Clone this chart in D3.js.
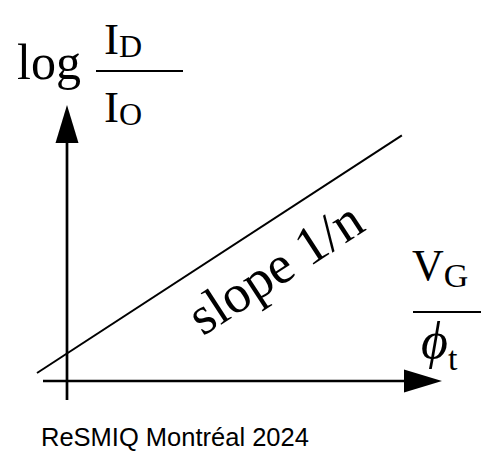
<!DOCTYPE html>
<html>
<head>
<meta charset="utf-8">
<script src="https://cdn.jsdelivr.net/npm/d3@7"></script>
<style>
  html, body { margin: 0; padding: 0; background: #fff; }
  svg { display: block; }
  .serif { font-family: "Liberation Serif", "Times New Roman", serif; fill: #000; }
  .sans { font-family: "Liberation Sans", Arial, sans-serif; fill: #000; }
</style>
</head>
<body>
<svg id="chart" width="481" height="451"></svg>
<script>
// Subthreshold conduction: log(ID/IO) grows linearly with VG/phi_t, slope 1/n
const axisX = [-0.64, 10];      // horizontal axis extent (VG/phi_t units)
const axisY = [-0.69, 10];      // vertical axis extent (log ID/IO units)
const lineX = [-0.8, 8.93];     // characteristic line endpoints
const lineY = [0.29, 8.9];
const slopeLabel = "slope 1/n";
const footer = "ReSMIQ Montréal 2024";

const svg = d3.select("#chart");
const x = d3.scaleLinear().domain([0, 10]).range([67, 442]);
const y = d3.scaleLinear().domain([0, 10]).range([381, 105]);

const arrowLen = 38, arrowHalf = 11.5;

// horizontal axis with arrow
svg.append("line")
  .attr("x1", x(axisX[0])).attr("x2", x(axisX[1]) - arrowLen + 2)
  .attr("y1", y(0)).attr("y2", y(0))
  .attr("stroke", "#000").attr("stroke-width", 2.7);
svg.append("path")
  .attr("d", d3.line()([
    [x(axisX[1]), y(0)],
    [x(axisX[1]) - arrowLen, y(0) - arrowHalf],
    [x(axisX[1]) - arrowLen, y(0) + arrowHalf]
  ]) + "Z")
  .attr("fill", "#000");

// vertical axis with arrow
svg.append("line")
  .attr("x1", x(0)).attr("x2", x(0))
  .attr("y1", y(axisY[0])).attr("y2", y(axisY[1]) + arrowLen - 2)
  .attr("stroke", "#000").attr("stroke-width", 2.7);
svg.append("path")
  .attr("d", d3.line()([
    [x(0), y(axisY[1])],
    [x(0) - arrowHalf, y(axisY[1]) + arrowLen],
    [x(0) + arrowHalf, y(axisY[1]) + arrowLen]
  ]) + "Z")
  .attr("fill", "#000");

// characteristic line
svg.append("path")
  .datum(d3.zip(lineX, lineY))
  .attr("d", d3.line().x(d => x(d[0])).y(d => y(d[1])))
  .attr("fill", "none").attr("stroke", "#000").attr("stroke-width", 2);

// slope label, rotated along the line
const ang = Math.atan2(y(lineY[1]) - y(lineY[0]), x(lineX[1]) - x(lineX[0])) * 180 / Math.PI;
svg.append("text").attr("class", "serif")
  .attr("transform", `translate(285,283) rotate(${ang})`)
  .attr("text-anchor", "middle")
  .attr("font-size", 54)
  .text(slopeLabel);

// y-axis label: log ID / IO
const yl = svg.append("g");
yl.append("text").attr("class", "serif").attr("x", 17).attr("y", 79).attr("font-size", 50).text("log");
const num = yl.append("text").attr("class", "serif").attr("x", 104).attr("y", 54).attr("font-size", 45);
num.append("tspan").text("I");
num.append("tspan").attr("font-size", 32).attr("dy", 3).text("D");
yl.append("line").attr("x1", 96).attr("x2", 183).attr("y1", 71).attr("y2", 71)
  .attr("stroke", "#000").attr("stroke-width", 2);
const den = yl.append("text").attr("class", "serif").attr("x", 104).attr("y", 122).attr("font-size", 45);
den.append("tspan").text("I");
den.append("tspan").attr("font-size", 32).attr("dy", 3).text("O");

// x-axis label: VG / phi_t
const xl = svg.append("g");
const vg = xl.append("text").attr("class", "serif").attr("x", 412).attr("y", 280).attr("font-size", 44);
vg.append("tspan").text("V");
vg.append("tspan").attr("font-size", 34).attr("dy", 7).text("G");
xl.append("line").attr("x1", 413).attr("x2", 481).attr("y1", 312).attr("y2", 312)
  .attr("stroke", "#000").attr("stroke-width", 2);
const ph = xl.append("text").attr("class", "serif").attr("x", 421).attr("y", 358).attr("font-size", 52);
ph.append("tspan").attr("font-style", "italic").text("ϕ");
ph.append("tspan").attr("font-size", 34).attr("dy", 12).text("t");

// footer
svg.append("text").attr("class", "sans").attr("x", 41).attr("y", 446).attr("font-size", 25.5).text(footer);
</script>
</body>
</html>
